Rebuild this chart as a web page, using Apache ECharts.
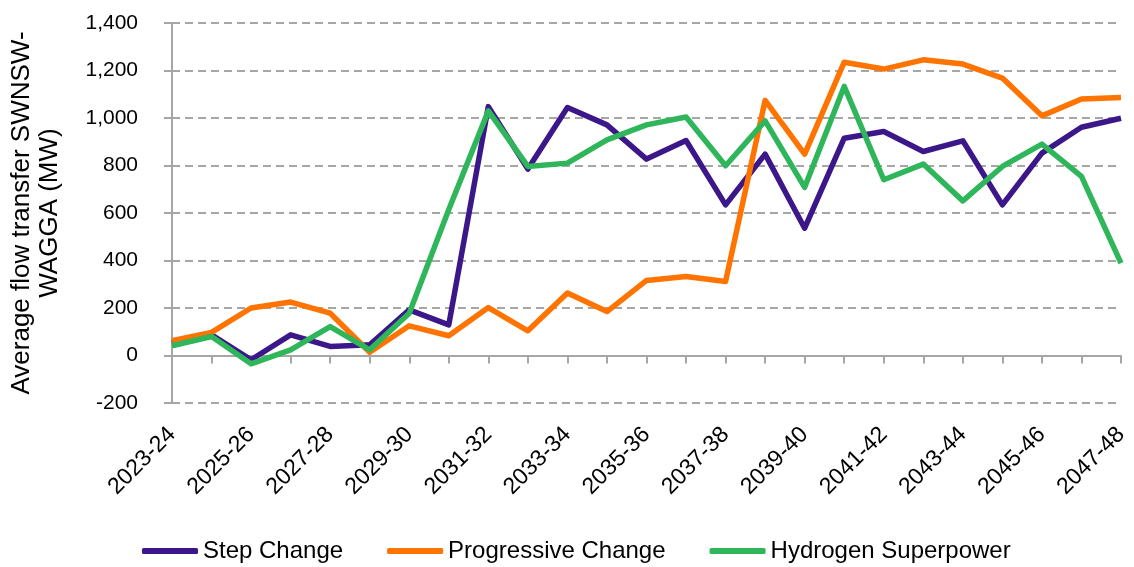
<!DOCTYPE html>
<html>
<head>
<meta charset="utf-8">
<script src="https://cdn.jsdelivr.net/npm/echarts@6/dist/echarts.min.js"></script>
<style>
  html, body { margin: 0; padding: 0; background: #fff; }
  #chart { width: 1134px; height: 567px; }
</style>
</head>
<body>
<div id="chart"></div>
<script>
// Financial years on the category axis
const years = [
  '2023-24', '2024-25', '2025-26', '2026-27', '2027-28', '2028-29', '2029-30',
  '2030-31', '2031-32', '2032-33', '2033-34', '2034-35', '2035-36', '2036-37',
  '2037-38', '2038-39', '2039-40', '2040-41', '2041-42', '2042-43', '2043-44',
  '2044-45', '2045-46', '2046-47', '2047-48'
];

// Average flow transfer SWNSW-WAGGA (MW) per scenario
const stepChange = [
  52, 87, -18, 87, 38, 45, 192, 129, 1048, 785, 1044, 971, 827,
  905, 634, 848, 536, 915, 943, 859, 904, 634, 852, 961, 999
];
const progressiveChange = [
  62, 97, 200, 225, 178, 14, 125, 83, 202, 104, 263, 185, 316,
  333, 312, 1074, 848, 1235, 1206, 1245, 1227, 1168, 1009, 1080, 1086
];
const hydrogenSuperpower = [
  41, 80, -35, 24, 122, 24, 178, 615, 1030, 796, 810, 908, 971,
  1004, 799, 988, 708, 1133, 740, 806, 651, 796, 890, 754, 389
];

// Value axis ticks
const yMin = -200;
const yMax = 1400;
const yStep = 200;

const FONT = '"Liberation Sans", Arial, sans-serif';
const GREY = '#a6a6a6';

const chart = echarts.init(document.getElementById('chart'), null, { renderer: 'canvas' });

const lineSeries = (name, data, color) => ({
  name: name,
  type: 'line',
  data: data,
  xAxisIndex: 0,
  symbol: 'none',
  lineStyle: { color: color, width: 5.5, join: 'round' },
  itemStyle: { color: color },
  animation: false
});

chart.setOption({
  backgroundColor: '#ffffff',
  animation: false,
  grid: { left: 172, right: 13, top: 23, bottom: 164, containLabel: false },
  legend: {
    left: 137,
    top: 534,
    icon: 'roundRect',
    itemWidth: 56,
    itemHeight: 6,
    itemGap: 44,
    textStyle: { fontFamily: FONT, fontSize: 24, color: '#000' },
    data: ['Step Change', 'Progressive Change', 'Hydrogen Superpower']
  },
  xAxis: [
    {
      // zero line with a tick at every year
      type: 'category',
      data: years,
      boundaryGap: false,
      position: 'bottom',
      axisLine: { show: true, onZero: true, lineStyle: { color: GREY, width: 2 } },
      axisTick: { show: true, length: 8, interval: 0, lineStyle: { color: GREY, width: 2 } },
      axisLabel: { show: false },
      splitLine: { show: false }
    },
    {
      // year labels along the bottom of the plot
      type: 'category',
      data: years,
      boundaryGap: false,
      position: 'bottom',
      axisLine: { show: false, onZero: false },
      axisTick: { show: false },
      axisLabel: {
        show: true,
        interval: 1,
        rotate: 45,
        margin: 28,
        fontFamily: FONT,
        fontSize: 23,
        color: '#000'
      },
      splitLine: { show: false }
    }
  ],
  yAxis: {
    type: 'value',
    min: yMin,
    max: yMax,
    interval: yStep,
    name: 'Average flow transfer SWNSW-\nWAGGA (MW)',
    nameLocation: 'middle',
    nameGap: 108,
    nameTextStyle: { fontFamily: FONT, fontSize: 26, color: '#000', lineHeight: 28 },
    axisLine: { show: true, lineStyle: { color: GREY, width: 2 } },
    axisTick: { show: true, length: 8, lineStyle: { color: GREY, width: 2 } },
    axisLabel: {
      fontFamily: FONT,
      fontSize: 21,
      color: '#000',
      margin: 34,
      formatter: v => v.toLocaleString('en-US')
    },
    splitLine: { show: true, lineStyle: { color: GREY, width: 2, type: [8, 5] } }
  },
  series: [
    lineSeries('Step Change', stepChange, '#3c1789'),
    lineSeries('Progressive Change', progressiveChange, '#ff7300'),
    lineSeries('Hydrogen Superpower', hydrogenSuperpower, '#2fb65a')
  ]
});
</script>
</body>
</html>
